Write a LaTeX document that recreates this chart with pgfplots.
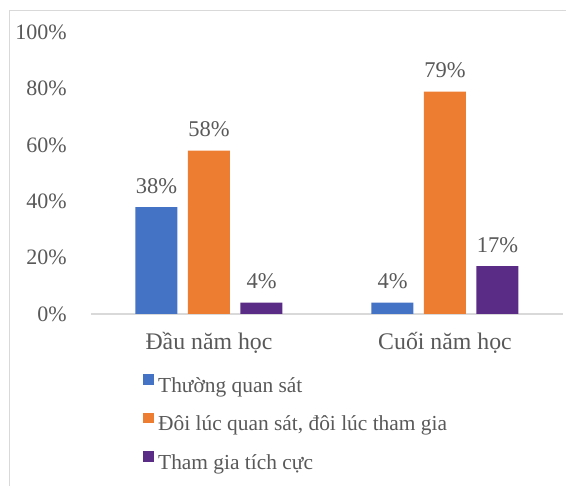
\documentclass[border=0pt]{standalone}
\usepackage{fontspec}
\setmainfont{Liberation Serif}
\usepackage{pgfplots}
\pgfplotsset{compat=1.18}
\definecolor{cblue}{HTML}{4472C4}
\definecolor{corange}{HTML}{ED7D31}
\definecolor{cpurple}{HTML}{5B2C86}
\definecolor{ctext}{HTML}{595959}
\definecolor{cframe}{HTML}{D9D9D9}
\begin{document}
\begin{tikzpicture}[x=1pt,y=1pt,font=\fontsize{22}{26}\selectfont]
\useasboundingbox (0,0) rectangle (566,-486);
\fill[white] (0,0) rectangle (566,-486);
\draw[cframe,line width=1.5pt] (9.5,-486) -- (9.5,-10.5) -- (566,-10.5);
\begin{axis}[
  at={(91pt,-314pt)}, anchor=south west,
  scale only axis, width=472pt, height=281.5pt,
  xmin=-0.5, xmax=1.5, ymin=0, ymax=100,
  axis x line*=bottom, axis y line*=left,
  y axis line style={draw=none},
  x axis line style={cframe, line width=1.2pt, -},
  major tick length=0pt,
  xtick={0,1}, xticklabels={Đầu năm học, Cuối năm học},
  ytick={0,20,40,60,80,100},
  yticklabels={0\%,20\%,40\%,60\%,80\%,100\%},
  tick label style={text=ctext},
  yticklabel style={anchor=east, inner sep=0pt, xshift=-24pt, font=\fontsize{22}{26}\selectfont},
  xticklabel style={anchor=base, inner sep=0pt, yshift=-35.5pt, font=\fontsize{23.8}{28}\selectfont},
  /pgf/number format/assume math mode=true,
  ybar, bar width=42pt,
  nodes near coords={\pgfmathprintnumber{\pgfplotspointmeta}\%},
  every node near coord/.append style={text=ctext, anchor=base, inner sep=0pt, yshift=14pt, font=\fontsize{22.5}{26}\selectfont},
  clip=false,
  legend image code/.code={\fill[#1,draw=none] (0pt,2.5pt) rectangle (11pt,13pt);},
  legend style={at={(axis description cs:0.1102,-0.2131)}, anchor=north west, draw=none, fill=none,
    inner sep=0pt, column sep=4pt, row sep=15.5pt,
    nodes={text=ctext, inner sep=0pt, text height=15pt, text depth=5pt, font=\fontsize{21.4}{25}\selectfont}},
  legend cell align=left,
]
\addplot[fill=cblue, draw=none, bar shift=-52.5pt] coordinates {(0,38) (1,4)};
\addplot[fill=corange, draw=none, bar shift=0pt] coordinates {(0,58) (1,79)};
\addplot[fill=cpurple, draw=none, bar shift=52.5pt] coordinates {(0,4) (1,17)};
\legend{Thường quan sát, {Đôi lúc quan sát, đôi lúc tham gia}, Tham gia tích cực}
\end{axis}
\end{tikzpicture}
\end{document}
